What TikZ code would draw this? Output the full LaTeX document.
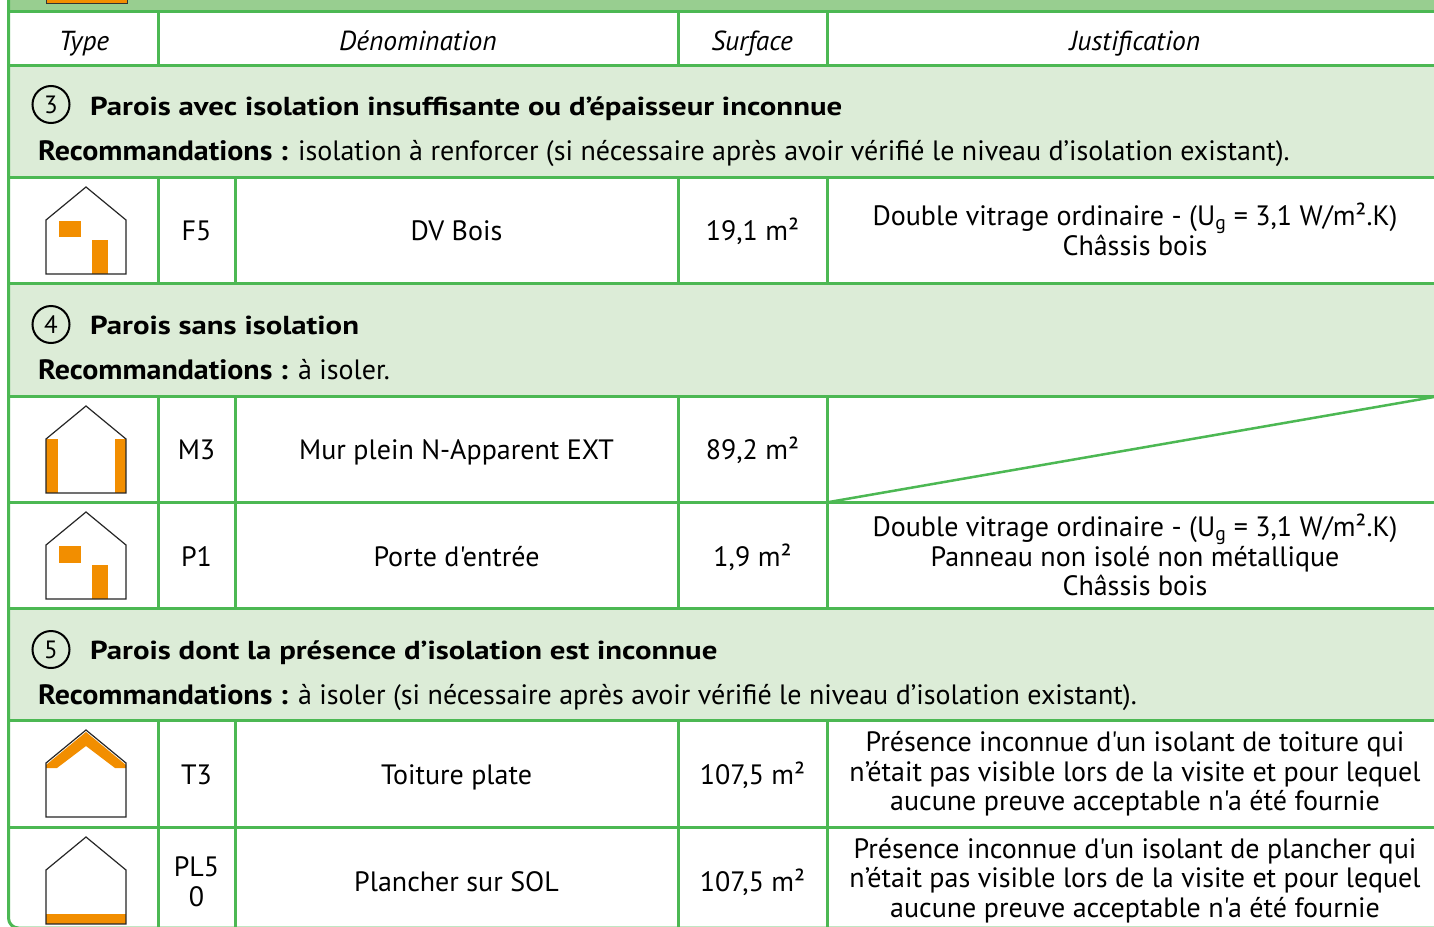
\documentclass[tikz,border=0pt]{standalone}
\usepackage{fontspec}
\setmainfont{PT Sans}[Ligatures=TeXOff]
\newfontfamily\widefam{PT Sans}[Ligatures=TeXOff, FakeStretch=1.185]
\newfontfamily\recfam{PT Sans}[Ligatures=TeXOff, FakeStretch=1.07]
\definecolor{lineg}{HTML}{4CB853}
\definecolor{topg}{HTML}{98CE90}
\definecolor{secg}{HTML}{DCECD7}
\definecolor{orng}{HTML}{F28E00}
\tikzset{
  grid/.style={draw=lineg, line width=3pt},
  hdr/.style={font=\fontsize{27.5}{30}\selectfont\itshape, inner sep=0, anchor=base},
  cell/.style={font=\fontsize{28}{30}\selectfont, inner sep=0, align=center},
  cellb/.style={cell, anchor=base},
  just/.style={font=\fontsize{28}{29.5}\selectfont, inner sep=0, align=center},
  sectitle/.style={font=\fontsize{26}{30}\selectfont\widefam\bfseries, anchor=base west, inner sep=0},
  secrec/.style={font=\fontsize{28}{30}\selectfont, anchor=base west, inner sep=0},
  num/.style={circle, draw=black, line width=2pt, minimum size=37pt, inner sep=0, font=\fontsize{25}{28}\selectfont},
  houseline/.style={draw=black!85, line width=1.2pt, line join=miter},
  ins/.style={fill=orng}
}
\newcommand\recbf[1]{{\recfam\bfseries #1}}
\newcommand\houseicon[2]{% #1 = row top, #2 = insulation drawing
  \begin{scope}[shift={(0,#1)}]
    \fill[white] (46,43) -- (86,10) -- (126,43) -- (126,97) -- (46,97) -- cycle;
    #2
    \draw[houseline] (46,43) -- (86,10) -- (126,43) -- (126,97) -- (46,97) -- cycle;
  \end{scope}}
\begin{document}
\begin{tikzpicture}[x=1pt,y=-1pt]
\useasboundingbox (0,0) rectangle (1434,926);
\fill[white] (0,0) rectangle (1434,926);
% fills
\fill[topg] (8.5,0) rectangle (1434,11.5);
\fill[secg] (8.5,65) rectangle (1434,177);
\fill[secg] (8.5,283) rectangle (1434,396);
\fill[secg] (8.5,608) rectangle (1434,720);
% top orange legend box
\draw[fill=orng, draw=black!80, line width=1pt] (46,-3) rectangle (127,3);
% horizontal lines
\foreach \yy in {11.5,65,177,283,396,502,608,720,827}{
  \draw[grid] (8.5,\yy) -- (1434,\yy);
}
% outer left border with rounded corner
\draw[grid, rounded corners=10pt] (8.5,0) -- (8.5,928) -- (1434,928);
% header columns
\foreach \xx in {158,678,827}{ \draw[grid] (\xx,11.5) -- (\xx,65); }
% row columns
\foreach \ya/\yb in {177/283, 396/608, 720/928}{
  \foreach \xx in {158,235,678,827}{ \draw[grid] (\xx,\ya) -- (\xx,\yb); }
}
% diagonal in empty justification cell
\coordinate (dA) at (829,502);
\coordinate (dB) at (1434,397);
\draw[draw=lineg, line width=2.5pt] (dA) -- (dB);

% header texts
\node[hdr] (hType) at (84,50.5) {Type};
\node[hdr] (hDen) at (418,50.5) {Dénomination};
\node[hdr] (hSurf) at (752,50.5) {Surface};
\node[hdr] (hJust) at (1135,50.5) {Justification};

% section 3
\node[num] (n3) at (51,104.5) {3};
\node[sectitle] (t3) at (90,115) {Parois avec isolation insuffisante ou d’épaisseur inconnue};
\node[secrec] (r3) at (38,160.5) {\recbf{Recommandations :} isolation à renforcer (si nécessaire après avoir vérifié le niveau d’isolation existant).};

% row F5
\houseicon{177}{\fill[ins] (59,44) rectangle (80.5,60); \fill[ins] (91.5,63) rectangle (108,97);}
\node[cellb] (cF5) at (196.5,240.5) {F5};
\node[cellb] (dF5) at (456.5,240.5) {DV Bois};
\node[cellb] (sF5) at (752.5,240.5) {19,1 m²};
\node[just] (jF5) at (1135,229.5) {Double vitrage ordinaire - (U\textsubscript{g} = 3,1 W/m².K)\\Châssis bois};

% section 4
\node[num] (n4) at (51,324.5) {4};
\node[sectitle] (t4) at (90,334.5) {Parois sans isolation};
\node[secrec] (r4) at (38,379.5) {\recbf{Recommandations :} à isoler.};

% row M3
\houseicon{396}{\fill[ins] (46,43) rectangle (57.5,97); \fill[ins] (114.5,43) rectangle (126,97);}
\node[cellb] (cM3) at (196.5,459.5) {M3};
\node[cellb] (dM3) at (456.5,459.5) {Mur plein N-Apparent EXT};
\node[cellb] (sM3) at (752.5,459.5) {89,2 m²};

% row P1
\houseicon{502}{\fill[ins] (59,44) rectangle (80.5,60.5); \fill[ins] (91.5,63) rectangle (108,97);}
\node[cellb] (cP1) at (196.5,566) {P1};
\node[cellb] (dP1) at (456.5,566) {Porte d'entrée};
\node[cellb] (sP1) at (752.5,566) {1,9 m²};
\node[just] (jP1) at (1135,555) {Double vitrage ordinaire - (U\textsubscript{g} = 3,1 W/m².K)\\Panneau non isolé non métallique\\Châssis bois};

% section 5
\node[num] (n5) at (51,649.5) {5};
\node[sectitle] (t5) at (90,659.5) {Parois dont la présence d’isolation est inconnue};
\node[secrec] (r5) at (38,704.5) {\recbf{Recommandations :} à isoler (si nécessaire après avoir vérifié le niveau d’isolation existant).};

% row T3
\houseicon{720}{\fill[ins] (46,45) -- (86,12) -- (126,45) -- (126,48) -- (115,48) -- (86,26) -- (57,48) -- (46,48) -- cycle;}
\node[cellb] (cT3) at (196.5,784) {T3};
\node[cellb] (dT3) at (456.5,784) {Toiture plate};
\node[cellb] (sT3) at (752.5,784) {107,5 m²};
\node[just] (jT3) at (1135,774) {Présence inconnue d'un isolant de toiture qui\\n’était pas visible lors de la visite et pour lequel\\aucune preuve acceptable n'a été fournie};

% row PL50
\houseicon{827}{\fill[ins] (46,87) rectangle (126,97);}
\node[cell] (cPL) at (196.5,882) {PL5\\0};
\node[cell] (dPL) at (456.5,882) {Plancher sur SOL};
\node[cell] (sPL) at (752.5,882) {107,5 m²};
\node[just] (jPL) at (1135,880.5) {Présence inconnue d'un isolant de plancher qui\\n’était pas visible lors de la visite et pour lequel\\aucune preuve acceptable n'a été fournie};
\end{tikzpicture}
\end{document}
